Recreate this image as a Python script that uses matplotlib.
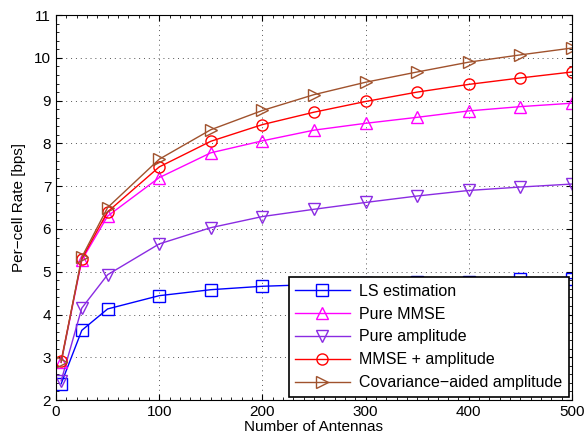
import matplotlib
matplotlib.use("Agg")
import matplotlib.pyplot as plt
from matplotlib.ticker import MultipleLocator

plt.rcParams['font.family'] = ['Liberation Sans', 'DejaVu Sans']

antennas = [5, 25, 50, 100, 150, 200, 250, 300, 350, 400, 450, 500]

ls_est = [2.38, 3.63, 4.13, 4.44, 4.58, 4.66, 4.7, 4.73, 4.75, 4.77, 4.82, 4.84]
pure_mmse = [2.88, 5.27, 6.3, 7.2, 7.78, 8.06, 8.31, 8.47, 8.61, 8.76, 8.86, 8.94]
pure_amp = [2.45, 4.15, 4.93, 5.65, 6.03, 6.29, 6.46, 6.62, 6.77, 6.9, 6.98, 7.05]
mmse_amp = [2.92, 5.3, 6.4, 7.45, 8.05, 8.44, 8.73, 8.98, 9.2, 9.38, 9.53, 9.67]
cov_amp = [2.88, 5.34, 6.5, 7.63, 8.32, 8.77, 9.14, 9.43, 9.67, 9.9, 10.07, 10.23]

labels = ['LS estimation', 'Pure MMSE', 'Pure amplitude', 'MMSE + amplitude',
          'Covariance\u2212aided amplitude']
series = [ls_est, pure_mmse, pure_amp, mmse_amp, cov_amp]
colors = ['#0000ff', '#ff00ff', '#8a2be2', '#ff0000', '#a0522d']
markers = ['s', '^', 'v', 'o', '>']

fig = plt.figure(figsize=(5.87, 4.44), dpi=100)
ax = fig.add_axes([0.0954, 0.099, 0.879, 0.867])

for y, lab, c, m in zip(series, labels, colors, markers):
    ax.plot(antennas, y, color=c, marker=m, markersize=8, markerfacecolor='none',
            markeredgecolor=c, linewidth=1, label=lab)

ax.set_xlim(0, 500)
ax.set_ylim(2, 11)
ax.xaxis.set_major_locator(MultipleLocator(100))
ax.yaxis.set_major_locator(MultipleLocator(1))
ax.xaxis.set_minor_locator(MultipleLocator(10))
ax.yaxis.set_minor_locator(MultipleLocator(0.2))
ax.tick_params(which='both', direction='in', top=True, right=True, labelsize=11)
ax.tick_params(which='major', length=4)
ax.tick_params(which='minor', length=2)
ax.grid(True, which='major', linestyle=(0, (1, 4)), color='#555555', linewidth=0.7)
ax.set_xlabel('Number of Antennas', fontsize=11, labelpad=1)
ax.set_ylabel('Per\u2212cell Rate [bps]', fontsize=11, labelpad=6)

leg = ax.legend(loc='lower right', fontsize=11.5, fancybox=False, framealpha=1,
                edgecolor='black', borderaxespad=0.2, handlelength=3.4,
                labelspacing=0.5, borderpad=0.4, handletextpad=0.6)
leg.get_frame().set_linewidth(1.2)

fig.savefig('out.png', dpi=100)
